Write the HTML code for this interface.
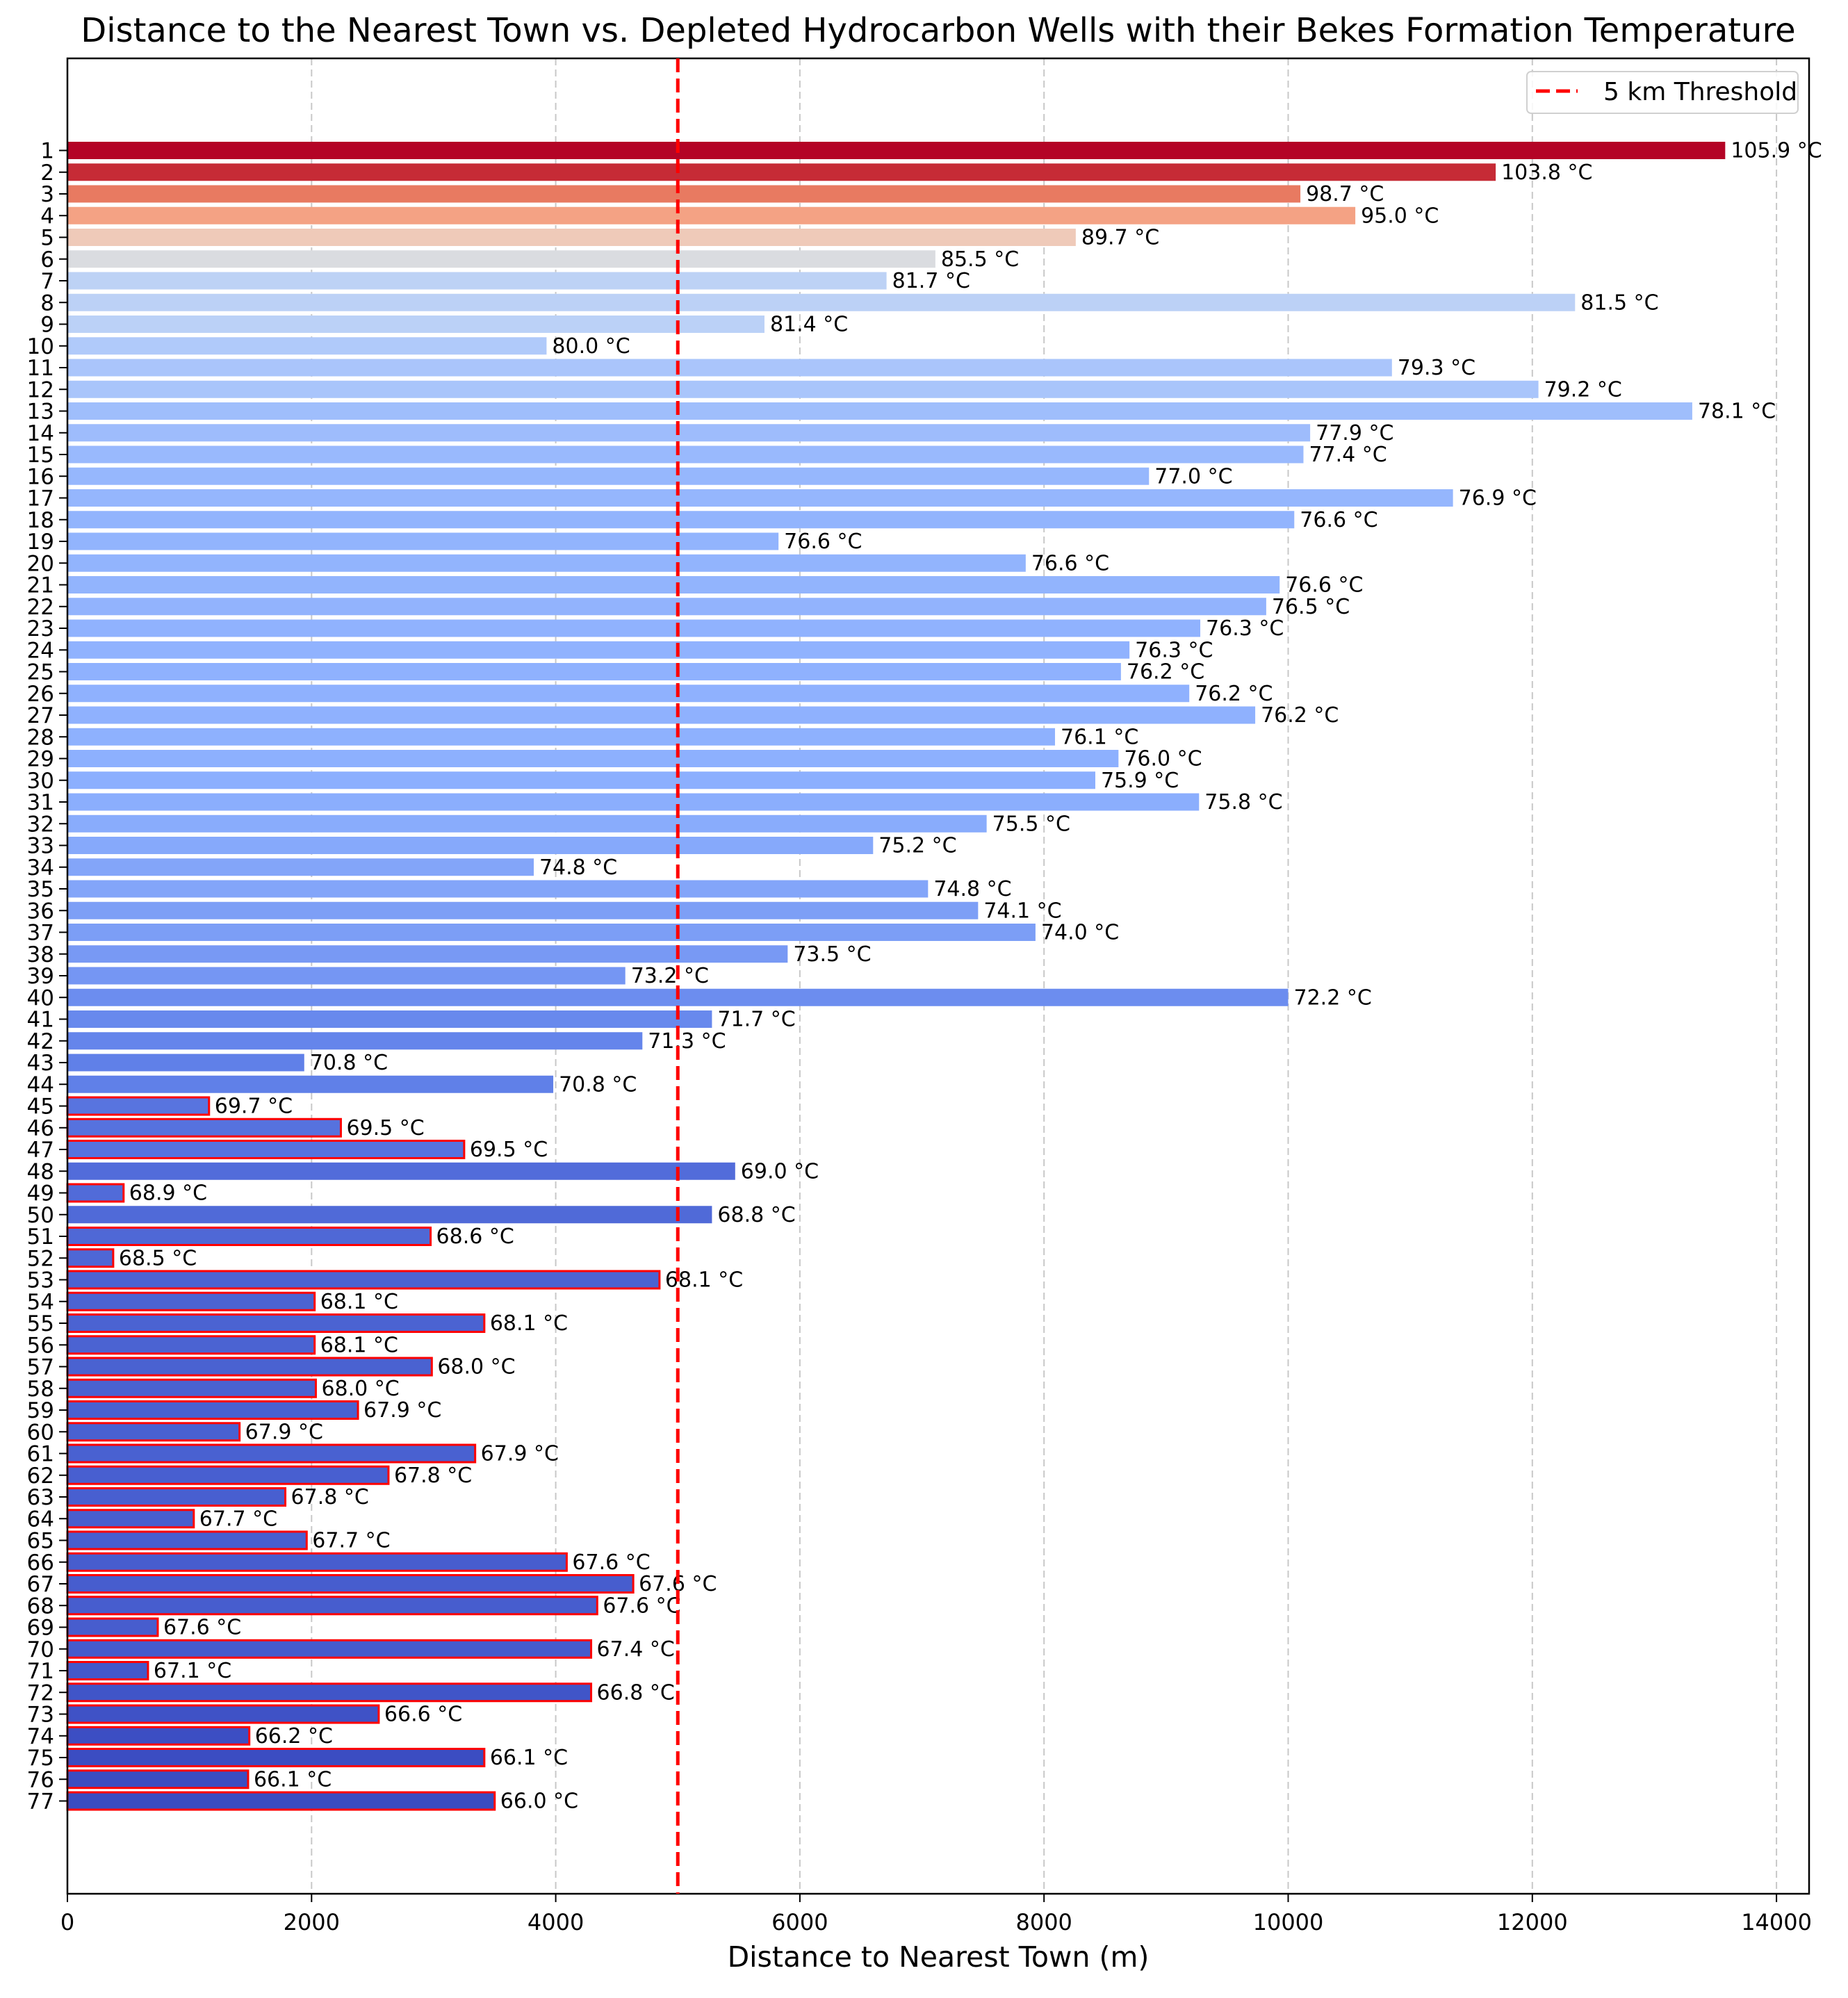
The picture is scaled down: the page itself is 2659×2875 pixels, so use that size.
<!DOCTYPE html>
<html><head><meta charset="utf-8"><style>
html,body{margin:0;padding:0;background:#fff;}
svg{display:block;font-family:"DejaVu Sans","Liberation Sans",sans-serif;}
</style></head><body>
<svg id="chart" width="2659" height="2875" xmlns="http://www.w3.org/2000/svg">
<text x="1350" y="60" font-size="48" text-anchor="middle" fill="#000">Distance to the Nearest Town vs. Depleted Hydrocarbon Wells with their Bekes Formation Temperature</text>
<g id="grid"></g>
<g id="bars"></g>
<g id="labels"></g>
<g id="yaxis"></g>
<g id="xaxis"></g>
<rect x="97" y="84" width="2506" height="2641" fill="none" stroke="#000" stroke-width="2.5"/>
<line id="thresh" y1="84" y2="2725" stroke="#ff0000" stroke-width="5" stroke-dasharray="20,9"/>
<g>
<rect x="2197" y="103" width="390" height="60" rx="6" fill="#fff" fill-opacity="0.85" stroke="#d0d0d0" stroke-width="2"/>
<line x1="2210" y1="131" x2="2270" y2="131" stroke="#ff0000" stroke-width="5" stroke-dasharray="20,9"/>
<text x="2307" y="144" font-size="36" fill="#000">5 km Threshold</text>
</g>
<text x="1350" y="2830" font-size="41" text-anchor="middle" fill="#000">Distance to Nearest Town (m)</text>
</svg>
<script>
const wells = Array.from({length:77},(_,i)=>String(i+1));
const distances = [13580,11700,10100,10550,8260,7110,6710,12350,5710,3925,10850,12050,13310,10180,10125,8860,11350,10050,5825,7850,9930,9820,9280,8700,8630,9190,9730,8090,8610,8420,9270,7530,6600,3820,7050,7460,7930,5900,4570,10000,5280,4710,1940,3980,1160,2240,3250,5470,460,5280,2975,375,4850,2025,3415,2025,2985,2035,2380,1410,3340,2630,1785,1035,1960,4090,4635,4340,740,4290,660,4290,2550,1490,3415,1480,3500];
const temps = [105.9,103.8,98.7,95.0,89.7,85.5,81.7,81.5,81.4,80.0,79.3,79.2,78.1,77.9,77.4,77.0,76.9,76.6,76.6,76.6,76.6,76.5,76.3,76.3,76.2,76.2,76.2,76.1,76.0,75.9,75.8,75.5,75.2,74.8,74.8,74.1,74.0,73.5,73.2,72.2,71.7,71.3,70.8,70.8,69.7,69.5,69.5,69.0,68.9,68.8,68.6,68.5,68.1,68.1,68.1,68.1,68.0,68.0,67.9,67.9,67.9,67.8,67.8,67.7,67.7,67.6,67.6,67.6,67.6,67.4,67.1,66.8,66.6,66.2,66.1,66.1,66.0];
const xTicks = [0,2000,4000,6000,8000,10000,12000,14000];
const threshold = 5000;

const NS="http://www.w3.org/2000/svg";
const X0=97, PX=351.3/2000, Y1=216.5, STEP=31.25, BH=25;
const xs=v=>X0+v*PX;
const ys=i=>Y1+i*STEP;
const stops=[[0,[58,76,193]],[0.125,[98,130,234]],[0.25,[141,176,254]],[0.375,[184,208,249]],[0.5,[221,221,221]],[0.625,[245,196,173]],[0.75,[244,154,123]],[0.875,[222,96,77]],[1,[180,4,38]]];
function cw(t){t=Math.max(0,Math.min(1,t));for(let k=1;k<stops.length;k++){if(t<=stops[k][0]){const a=stops[k-1],b=stops[k],f=(t-a[0])/(b[0]-a[0]);return 'rgb('+a[1].map((c,j)=>Math.round(c+(b[1][j]-c)*f)).join(',')+')';}}}
const tmin=Math.min(...temps),tmax=Math.max(...temps);
function mk(tag,attrs,parent){const e=document.createElementNS(NS,tag);for(const k in attrs)e.setAttribute(k,attrs[k]);parent.appendChild(e);return e;}
const grid=document.getElementById('grid'),bars=document.getElementById('bars'),labels=document.getElementById('labels'),yax=document.getElementById('yaxis'),xax=document.getElementById('xaxis');
xTicks.forEach(t=>{
  const g=mk('line',{x1:xs(t),x2:xs(t),y1:84,y2:2725,stroke:'#c8c8c8','stroke-width':2,'stroke-dasharray':'10,6'},grid);
  
  
  const tk=mk('line',{x1:xs(t),x2:xs(t),y1:2725,y2:2737,stroke:'#000','stroke-width':2},xax);
  
  
  const tl=mk('text',{x:xs(t),y:2777,'font-size':32,'text-anchor':'middle',fill:'#000'},xax);
  tl.textContent=t;
  
  
});
wells.forEach((w,i)=>{
  const d=distances[i],tp=temps[i],y=ys(i);
  const edge = (d<threshold && tp<70);
  const r=mk('rect',{x:X0,y:y-BH/2,width:Math.max(0,xs(d)-X0),height:BH,fill:cw((tp-tmin)/(tmax-tmin))},bars);
  if(edge){r.setAttribute('stroke','#ff0000');r.setAttribute('stroke-width',3);}
  
  
  const l=mk('text',{x:xs(d)+8,y:y+10,'font-size':30,fill:'#000'},labels);
  l.textContent=tp.toFixed(1)+' °C';
  
  
  const tk=mk('line',{x1:85,x2:97,y1:y,y2:y,stroke:'#000','stroke-width':2},yax);
  
  
  const yl=mk('text',{x:78,y:y+11,'font-size':31,'text-anchor':'end',fill:'#000'},yax);
  yl.textContent=w;
  
  
});
const th=document.getElementById('thresh');
th.setAttribute('x1',xs(threshold));th.setAttribute('x2',xs(threshold));
</script>
</body></html>
